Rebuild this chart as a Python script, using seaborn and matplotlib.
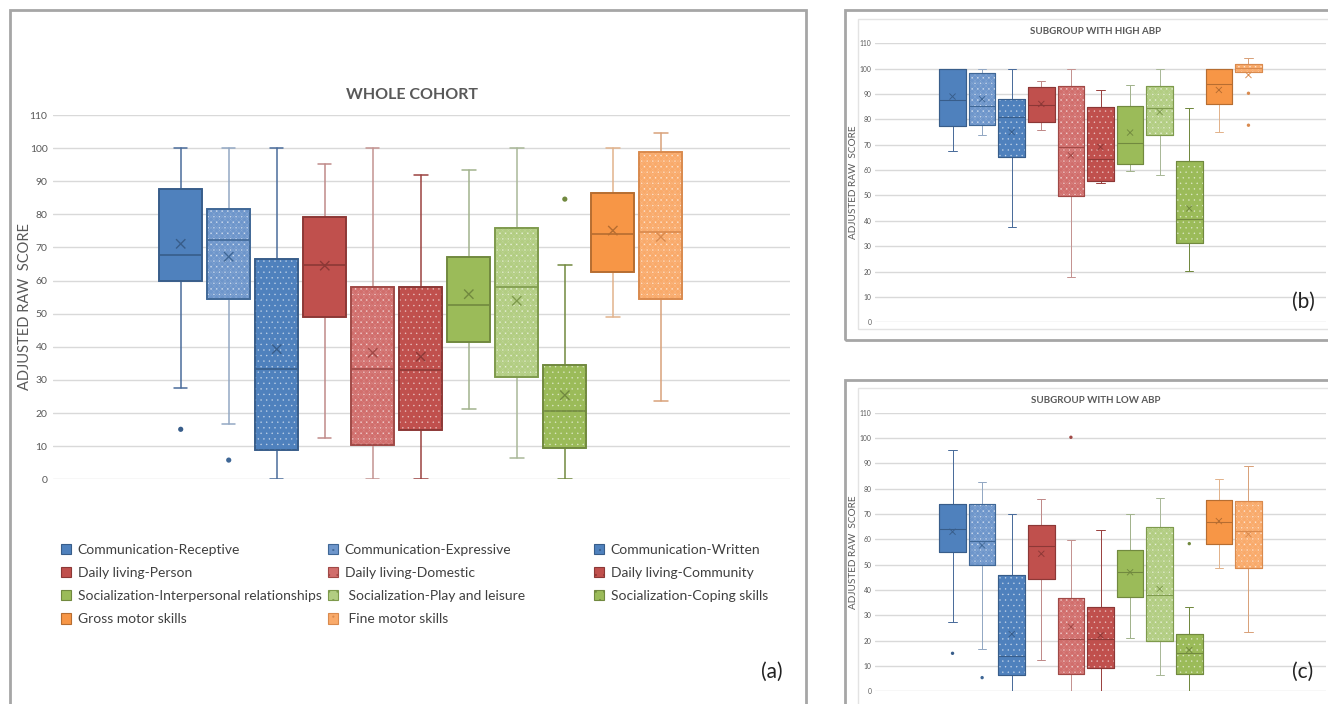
import numpy as np
import pandas as pd
import matplotlib.pyplot as plt
from matplotlib.patches import PathPatch, Rectangle, Patch
import seaborn as sns

# Domains (order of the boxes)
domains = ['Communication-Receptive', 'Communication-Expressive', 'Communication-Written',
           'Daily living-Person', 'Daily living-Domestic', 'Daily living-Community',
           'Socialization-Interpersonal relationships', ' Socialization-Play and leisure',
           'Socialization-Coping skills', 'Gross motor skills', ' Fine motor skills']

# (a) whole cohort
whole_low = [27.6, 16.8, 0, 12.4, 0, 0, 21.3, 6.5, 0, 48.9, 23.7]
whole_q1 = [60.0, 54.5, 8.8, 48.9, 10.5, 14.9, 41.4, 30.8, 9.4, 62.5, 54.3]
whole_med = [67.6, 72.3, 33.2, 64.8, 33.2, 32.9, 52.7, 58.0, 20.5, 74.0, 74.6]
whole_q3 = [87.6, 81.5, 66.5, 79.1, 58.2, 58.0, 67.2, 75.8, 34.4, 86.3, 98.7]
whole_high = [100, 100, 100, 95.2, 100, 92.0, 93.3, 100, 64.7, 100, 104.5]
whole_mean = [71.1, 67.2, 39.3, 64.5, 38.2, 37.0, 55.9, 53.9, 25.4, 75.1, 73.2]
whole_out = [[15.1], [5.8], [], [], [], [], [], [], [84.6], [], []]

# (b) subgroup with high ABP
high_low = [67.7, 74.0, 37.4, 75.7, 17.7, 54.8, 59.5, 58.0, 20.2, 74.9, 98.5]
high_q1 = [77.5, 77.8, 65.0, 78.8, 49.9, 55.7, 62.3, 74.0, 31.1, 86.1, 98.7]
high_med = [87.5, 85.2, 80.8, 85.5, 69.0, 64.5, 70.6, 84.4, 40.6, 93.8, 100.1]
high_q3 = [100, 98.2, 87.9, 92.6, 93.0, 85.0, 85.4, 93.3, 63.5, 100, 101.7]
high_high = [100, 100, 100, 95.3, 100, 91.7, 93.4, 100, 84.6, 100, 104.3]
high_mean = [89.0, 88.0, 75.0, 86.1, 65.8, 69.1, 74.8, 82.9, 44.9, 91.6, 97.5]
high_out = [[], [], [], [], [], [], [], [], [], [], [90.3, 77.7]]

# (c) subgroup with low ABP
lowg_low = [27.4, 16.6, 0, 12.2, 0, 0, 20.9, 6.3, 0, 48.8, 23.4]
lowg_q1 = [55.1, 49.7, 6.3, 44.2, 6.7, 9.1, 37.4, 19.7, 6.7, 58.3, 48.6]
lowg_med = [63.9, 59.5, 13.8, 57.5, 20.5, 20.5, 47.0, 37.9, 15.0, 67.0, 63.2]
lowg_q3 = [73.8, 73.8, 45.8, 65.5, 36.7, 33.4, 55.7, 64.7, 22.5, 75.4, 75.0]
lowg_high = [95.1, 82.5, 69.9, 75.8, 59.9, 63.6, 69.9, 76.2, 33.2, 83.7, 88.9]
lowg_mean = [63.0, 57.6, 22.6, 54.3, 25.5, 22.1, 47.0, 40.4, 16.3, 67.2, 62.0]
lowg_out = [[15.0], [5.4], [], [], [100.3], [], [], [], [58.3], [], []]

# styling per box
face = ['#4F81BD', '#6E96CB', '#4F81BD', '#C0504D', '#D16E6C', '#C0504D',
        '#9BBB59', '#B2CD82', '#9BBB59', '#F79646', '#F9AA6A']
edge = ['#385D8A', '#3F6796', '#385D8A', '#8C3836', '#A04946', '#8C3836',
        '#71893F', '#7E9A4C', '#71893F', '#B66D31', '#D98A4E']
whisk = ['#4A6C9B', '#93A8C3', '#4A6C9B', '#C08A89', '#C49391', '#9B4240',
         '#A2B38D', '#A9B898', '#71893F', '#E2B38C', '#D9A27A']
texture = [None, 'check', 'dots', None, 'check', 'dots',
           None, 'check', 'dots', None, 'check']

W, H = 1328, 704
sns.set_theme(style='whitegrid')
plt.rcParams['font.family'] = ['Lato', 'DejaVu Sans']
plt.rcParams['hatch.linewidth'] = 0.3
fig = plt.figure(figsize=(W / 100, H / 100), dpi=100)
fig.patch.set_facecolor('white')
grey = '#595959'


def rect(x0, y0, x1, y1):
    return [x0 / W, 1 - y1 / H, (x1 - x0) / W, (y1 - y0) / H]


def draw_panel(ax, low, q1, med, q3, high, mean, outs, scale):
    stats = [dict(whislo=a, q1=b, med=c, q3=d, whishi=e, fliers=[])
             for a, b, c, d, e in zip(low, q1, med, q3, high)]
    pos = np.arange(len(domains))
    bp = ax.bxp(stats, positions=pos, widths=0.9, capwidths=0.28, patch_artist=True,
                showfliers=False, manage_ticks=False)
    for i, box in enumerate(bp['boxes']):
        box.set_facecolor(face[i])
        box.set_edgecolor(edge[i])
        box.set_linewidth(1.2 * scale)
        box.set_zorder(3)
        if texture[i] == 'check':
            ax.add_patch(PathPatch(box.get_path(), transform=box.get_transform(),
                                   facecolor='none', edgecolor=(1, 1, 1, 0.18), lw=0,
                                   hatch='xxxxxx', zorder=3.1))
        if texture[i] is not None:
            ax.add_patch(PathPatch(box.get_path(), transform=box.get_transform(),
                                   facecolor='none', edgecolor=(1, 1, 1, 0.55), lw=0,
                                   hatch='...', zorder=3.2))
        ax.add_patch(PathPatch(box.get_path(), transform=box.get_transform(),
                               facecolor='none', edgecolor=edge[i], lw=1.2 * scale, zorder=3.3))
        bp['medians'][i].set(color=edge[i], lw=1.2 * scale, zorder=3.4)
        for j in (2 * i, 2 * i + 1):
            bp['whiskers'][j].set(color=whisk[i], lw=1.1 * scale, zorder=2)
            bp['caps'][j].set(color=whisk[i], lw=1.1 * scale, zorder=2)

    pal = dict(zip(domains, edge))
    mdf = pd.DataFrame({'x': pos, 'y': mean, 'domain': domains})
    sns.scatterplot(data=mdf, x='x', y='y', hue='domain', palette=pal, marker='x',
                    s=45 * scale ** 2, linewidth=1.0 * scale, legend=False, ax=ax, zorder=5)
    rows = [(i, v, domains[i]) for i, vals in enumerate(outs) for v in vals]
    odf = pd.DataFrame(rows, columns=['x', 'y', 'domain'])
    sns.scatterplot(data=odf, x='x', y='y', hue='domain', palette=pal, s=14 * scale ** 2,
                    edgecolor='none', legend=False, ax=ax, zorder=5)

    ax.set_ylim(0, 110)
    ax.set_yticks(range(0, 111, 10))
    ax.set_xticks([])
    ax.set_xlabel('')
    ax.set_ylabel('')
    ax.grid(axis='x', visible=False)
    ax.grid(axis='y', color='#D9D9D9', lw=1.0)
    for s in ax.spines.values():
        s.set_visible(False)
    ax.tick_params(axis='y', labelsize=7.5 * scale, labelcolor=grey, pad=4 * scale, length=0)
    ax.set_facecolor('white')


# panel frames
for x0, y0, x1, y1 in [(10, 10, 806, 712), (845, 10, 1340, 340), (845, 380, 1340, 712)]:
    fig.add_artist(Rectangle((x0 / W, 1 - y1 / H), (x1 - x0) / W, (y1 - y0) / H,
                             transform=fig.transFigure, fill=False, ec='#A6A6A6', lw=2))
for x0, y0, x1, y1 in [(858, 19, 1340, 329), (858, 388, 1340, 712)]:
    fig.add_artist(Rectangle((x0 / W, 1 - y1 / H), (x1 - x0) / W, (y1 - y0) / H,
                             transform=fig.transFigure, fill=False, ec='#E3E3E3', lw=1))

ax_a = fig.add_axes(rect(53, 115, 790, 479.3))
draw_panel(ax_a, whole_low, whole_q1, whole_med, whole_q3, whole_high, whole_mean, whole_out, 1.0)
ax_a.set_xlim(-2.66, 12.69)

ax_b = fig.add_axes(rect(875, 43.3, 1326, 322.3))
draw_panel(ax_b, high_low, high_q1, high_med, high_q3, high_high, high_mean, high_out, 0.65)
ax_b.set_xlim(-2.62, 12.62)

ax_c = fig.add_axes(rect(875, 412.7, 1326, 691.3))
draw_panel(ax_c, lowg_low, lowg_q1, lowg_med, lowg_q3, lowg_high, lowg_mean, lowg_out, 0.65)
ax_c.set_xlim(-2.62, 12.62)

# titles and labels
fig.text(412 / W, 1 - 95 / H, 'WHOLE COHORT', ha='center', va='center',
         fontsize=11.5, fontweight='bold', color=grey)
fig.text(1096 / W, 1 - 31 / H, 'SUBGROUP WITH HIGH ABP', ha='center', va='center',
         fontsize=7, fontweight='bold', color=grey)
fig.text(1096 / W, 1 - 400 / H, 'SUBGROUP WITH LOW ABP', ha='center', va='center',
         fontsize=7, fontweight='bold', color=grey)
fig.text(25 / W, 1 - 307 / H, 'ADJUSTED RAW  SCORE', rotation=90, ha='center', va='center',
         fontsize=10.5, color=grey)
fig.text(853 / W, 1 - 182 / H, 'ADJUSTED RAW  SCORE', rotation=90, ha='center', va='center',
         fontsize=7.2, color=grey)
fig.text(853 / W, 1 - 552 / H, 'ADJUSTED RAW  SCORE', rotation=90, ha='center', va='center',
         fontsize=7.2, color=grey)
fig.text(772 / W, 1 - 672 / H, '(a)', ha='center', va='center', fontsize=15, color='#222222')
fig.text(1303 / W, 1 - 302 / H, '(b)', ha='center', va='center', fontsize=15, color='#222222')
fig.text(1303 / W, 1 - 672 / H, '(c)', ha='center', va='center', fontsize=15, color='#222222')


# legend: three columns, filled row by row like the original
def handle(i):
    return Patch(facecolor=face[i], edgecolor=edge[i], lw=0.8,
                 hatch=None if texture[i] is None else '..')


cols = [[0, 3, 6, 9], [1, 4, 7, 10], [2, 5, 8]]
col_x = [61, 328, 594]
for cx, idx in zip(col_x, cols):
    fig.legend([handle(i) for i in idx], [domains[i] for i in idx],
               loc='upper left', bbox_to_anchor=(cx / W, 1 - 544 / H),
               frameon=False, fontsize=10, labelcolor='#404040', handlelength=0.75,
               handleheight=0.75, handletextpad=0.45, labelspacing=0.8, borderpad=0,
               borderaxespad=0)

fig.savefig('out.png', dpi=100, facecolor='white')
